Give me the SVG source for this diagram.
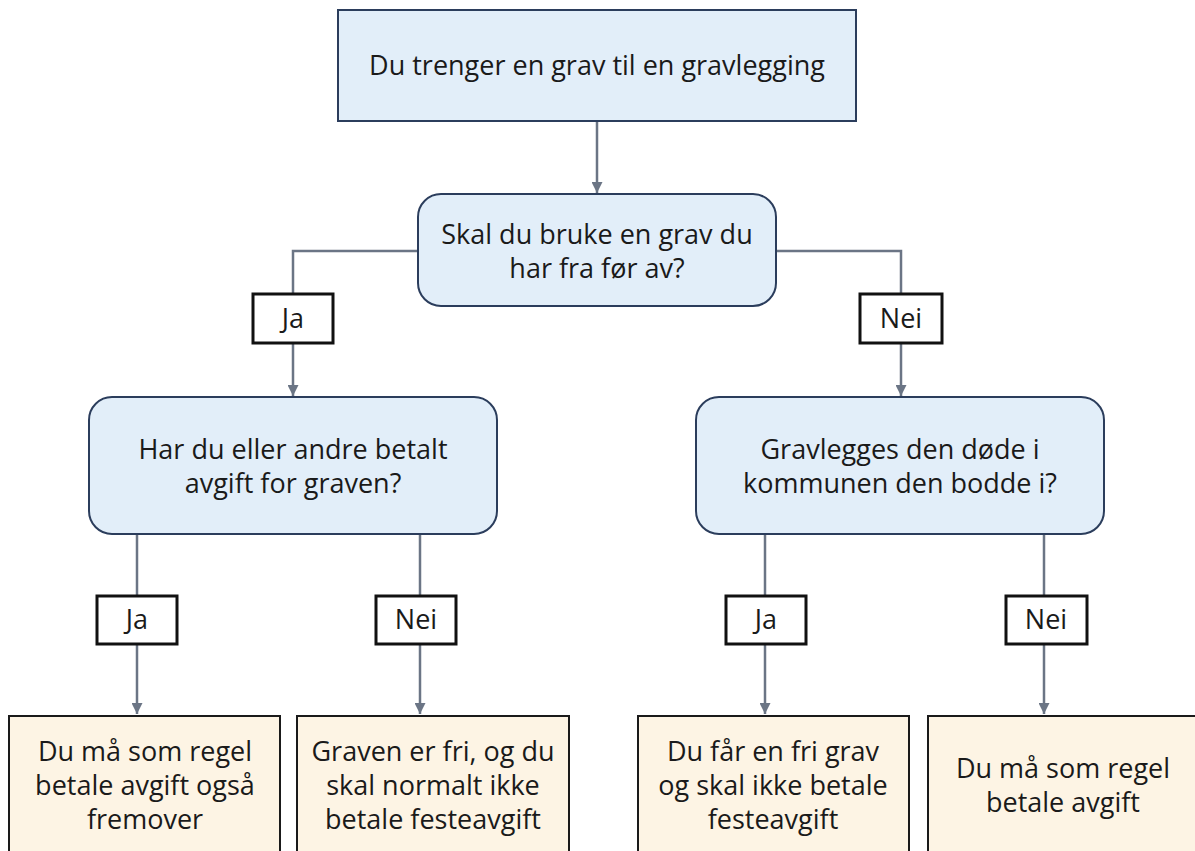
<svg xmlns="http://www.w3.org/2000/svg" width="1195" height="851" viewBox="0 0 1195 851">
<defs>
<style>
.q{fill:#e2eef9;stroke:#2b3d5c;stroke-width:2}
.r{fill:#fdf4e4;stroke:#1a1a1a;stroke-width:2}
.l{fill:#ffffff;stroke:#111111;stroke-width:3}
.c{fill:none;stroke:#6b7585;stroke-width:2.5}
text{font-family:"Open Sans","Noto Sans","Liberation Sans",sans-serif;font-size:27px;fill:#1a1a1a;text-anchor:middle}
</style>
<marker id="ah" viewBox="0 0 10 10" refX="10" refY="5" markerWidth="4.4" markerHeight="4.4" orient="auto" markerUnits="strokeWidth">
<path d="M0,0 L10,5 L0,10 z" fill="#6b7585"/>
</marker>
</defs>
<rect width="1195" height="851" fill="#ffffff"/>
<g id="connectors">
<path class="c" d="M597,121 V193" marker-end="url(#ah)"/>
<path class="c" d="M418,251 H293 V396" marker-end="url(#ah)"/>
<path class="c" d="M776,251 H901 V396" marker-end="url(#ah)"/>
<path class="c" d="M137,534 V714" marker-end="url(#ah)"/>
<path class="c" d="M420,534 V714" marker-end="url(#ah)"/>
<path class="c" d="M765,534 V714" marker-end="url(#ah)"/>
<path class="c" d="M1044,534 V714" marker-end="url(#ah)"/>
</g>
<g id="n-start">
<rect class="q" x="338" y="10" width="518" height="111"/>
<text x="597" y="75">Du trenger en grav til en gravlegging</text>
</g>
<g id="n-q1">
<rect class="q" x="418" y="194" width="358" height="112" rx="23"/>
<text x="597" y="244">Skal du bruke en grav du<tspan x="597" dy="34">har fra før av?</tspan></text>
</g>
<g id="n-q2">
<rect class="q" x="89" y="397" width="408" height="137" rx="23"/>
<text x="293" y="459">Har du eller andre betalt<tspan x="293" dy="34">avgift for graven?</tspan></text>
</g>
<g id="n-q3">
<rect class="q" x="696" y="397" width="408" height="137" rx="23"/>
<text x="900" y="459">Gravlegges den døde i<tspan x="900" dy="34">kommunen den bodde i?</tspan></text>
</g>
<g id="l-ja1">
<rect class="l" x="253" y="294" width="80" height="49"/>
<text x="293" y="328">Ja</text>
</g>
<g id="l-nei1">
<rect class="l" x="860" y="294" width="82" height="49"/>
<text x="901" y="328">Nei</text>
</g>
<g id="l-ja2">
<rect class="l" x="97" y="596" width="80" height="48"/>
<text x="137" y="629">Ja</text>
</g>
<g id="l-nei2">
<rect class="l" x="376" y="596" width="80" height="48"/>
<text x="416" y="629">Nei</text>
</g>
<g id="l-ja3">
<rect class="l" x="726" y="596" width="80" height="48"/>
<text x="766" y="629">Ja</text>
</g>
<g id="l-nei3">
<rect class="l" x="1006" y="596" width="81" height="48"/>
<text x="1046" y="629">Nei</text>
</g>
<g id="r1">
<rect class="r" x="9" y="716" width="271" height="142"/>
<text x="145" y="761">Du må som regel<tspan x="145" dy="34">betale avgift også</tspan><tspan x="145" dy="34">fremover</tspan></text>
</g>
<g id="r2">
<rect class="r" x="297" y="716" width="272" height="142"/>
<text x="433" y="761">Graven er fri, og du<tspan x="433" dy="34">skal normalt ikke</tspan><tspan x="433" dy="34">betale festeavgift</tspan></text>
</g>
<g id="r3">
<rect class="r" x="638" y="716" width="271" height="142"/>
<text x="773" y="761">Du får en fri grav<tspan x="773" dy="34">og skal ikke betale</tspan><tspan x="773" dy="34">festeavgift</tspan></text>
</g>
<g id="r4">
<rect class="r" x="928" y="716" width="271" height="142"/>
<text x="1063" y="778">Du må som regel<tspan x="1063" dy="34">betale avgift</tspan></text>
</g>
</svg>
